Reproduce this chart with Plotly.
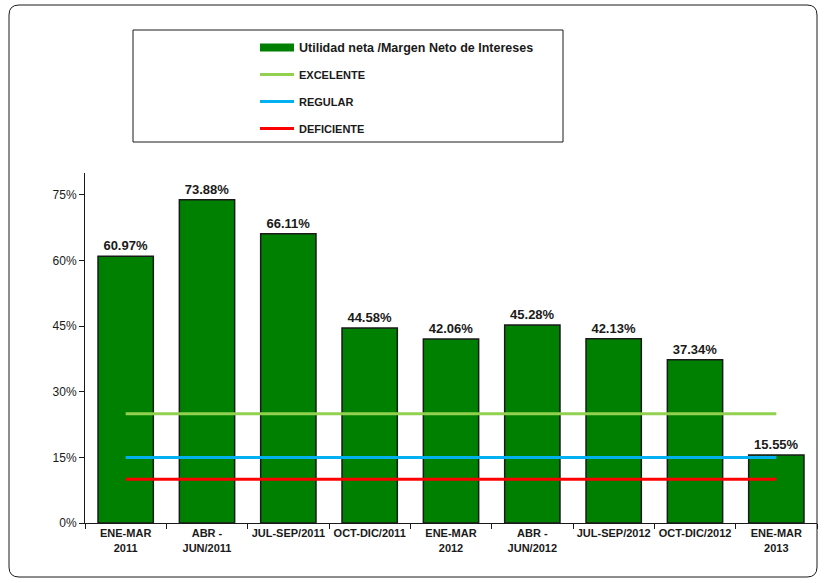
import plotly.graph_objects as go

categories = ["ENE-MAR<br>2011", "ABR -<br>JUN/2011", "JUL-SEP/2011", "OCT-DIC/2011",
              "ENE-MAR<br>2012", "ABR -<br>JUN/2012", "JUL-SEP/2012", "OCT-DIC/2012",
              "ENE-MAR<br>2013"]
utilidad = [60.97, 73.88, 66.11, 44.58, 42.06, 45.28, 42.13, 37.34, 15.55]
excelente = [25] * 9
regular = [15] * 9
deficiente = [10] * 9
y_ticks = [0, 15, 30, 45, 60, 75]
y_tick_labels = ["0%", "15%", "30%", "45%", "60%", "75%"]

W, H = 824, 583
ml, mr, mt, mb = 85, 7, 173, 60
pw, ph = W - ml - mr, H - mt - mb

def px_x(p):
    return (p - ml) / pw

def px_y(p):
    return (H - mb - p) / ph

FONT = "Arial, Liberation Sans, sans-serif"

fig = go.Figure()
fig.add_trace(go.Bar(
    x=categories, y=utilidad,
    name="Utilidad neta /Margen Neto de Intereses",
    marker=dict(color="#008000", line=dict(color="#1a1a1a", width=1.5)),
    text=[f"{v:.2f}%" for v in utilidad], textposition="outside",
    textfont=dict(family=FONT, size=13, color="#1a1a1a", weight="bold"),
    cliponaxis=False, legendgroup="a", showlegend=False,
))
# legend swatch for the bar series (wide bar-like key)
fig.add_trace(go.Scatter(
    x=[None], y=[None], mode="lines",
    name='<b><span style="font-size:12.5px">Utilidad neta /Margen Neto de Intereses</span></b>',
    line=dict(color="#008000", width=8), legendgroup="a", hoverinfo="skip",
))
for name, vals, col, g in [("EXCELENTE", excelente, "#92D050", "b"),
                           ("REGULAR", regular, "#00B0F0", "c"),
                           ("DEFICIENTE", deficiente, "#FF0000", "d")]:
    fig.add_trace(go.Scatter(x=categories, y=vals, mode="lines", name=f"<b>{name}</b>",
                             line=dict(color=col, width=3), legendgroup=g))

x0, x1 = px_x(9), px_x(817)
y0, y1 = px_y(577), px_y(5)
r = 10
rx, ry = r / pw, r / ph
path = (f"M {x0+rx},{y1} L {x1-rx},{y1} Q {x1},{y1} {x1},{y1-ry} "
        f"L {x1},{y0+ry} Q {x1},{y0} {x1-rx},{y0} L {x0+rx},{y0} "
        f"Q {x0},{y0} {x0},{y0+ry} L {x0},{y1-ry} Q {x0},{y1} {x0+rx},{y1} Z")

fig.update_layout(
    width=W, height=H,
    margin=dict(l=ml, r=mr, t=mt, b=mb, autoexpand=False),
    paper_bgcolor="white", plot_bgcolor="white",
    font=dict(family=FONT, size=12, color="#1a1a1a"),
    bargap=0.32,
    showlegend=True,
    legend=dict(x=px_x(255), y=px_y(33), xanchor="left", yanchor="top",
                bgcolor="rgba(0,0,0,0)", borderwidth=0,
                font=dict(family=FONT, size=11, color="#1a1a1a"),
                traceorder="grouped", tracegroupgap=8, itemwidth=34),
    xaxis=dict(showline=True, linecolor="#1a1a1a", linewidth=1, ticks="outside",
               tickson="boundaries", ticklen=5, tickcolor="#1a1a1a", tickangle=0,
               automargin=False,
               tickfont=dict(family=FONT, size=11, color="#1a1a1a", weight="bold"),
               showgrid=False, fixedrange=True),
    yaxis=dict(range=[0, 80], tickvals=y_ticks, ticktext=y_tick_labels,
               showline=True, linecolor="#1a1a1a", linewidth=1, ticks="outside",
               ticklen=5, tickcolor="#1a1a1a", showgrid=False, zeroline=False,
               automargin=False,
               tickfont=dict(family=FONT, size=12, color="#1a1a1a")),
    shapes=[
        dict(type="path", xref="paper", yref="paper", path=path,
             line=dict(color="#1a1a1a", width=1), fillcolor="rgba(0,0,0,0)", layer="below"),
        dict(type="rect", xref="paper", yref="paper",
             x0=px_x(133), x1=px_x(563), y0=px_y(142), y1=px_y(30),
             line=dict(color="#1a1a1a", width=1), fillcolor="rgba(0,0,0,0)"),
    ],
)

fig.write_html("out.html", config={"displayModeBar": False},
               post_script="document.body.style.margin='0';document.body.style.overflow='hidden';")
